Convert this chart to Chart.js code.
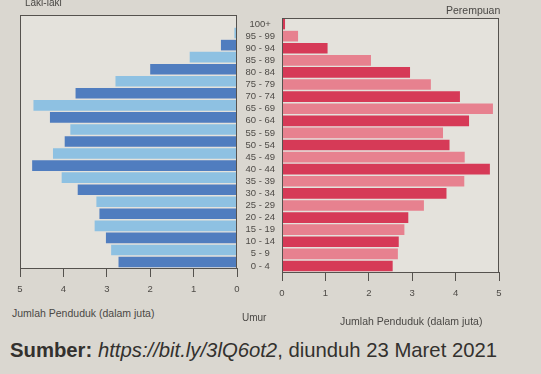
<!DOCTYPE html>
<html>
<head>
<meta charset="utf-8">
<script src="https://cdn.jsdelivr.net/npm/chart.js@4"></script>
<style>
  html, body { margin:0; padding:0; }
  body { width:541px; height:374px; background:#dad7d0; position:relative; overflow:hidden;
         font-family:"Liberation Sans", Arial, sans-serif; color:#4a4845; }
  canvas { position:absolute; }
  .t { position:absolute; white-space:nowrap; line-height:1; }
</style>
</head>
<body>
<canvas id="cL" width="240" height="300" style="left:0;top:0"></canvas>
<canvas id="cR" width="305" height="304" style="left:236px;top:0"></canvas>
<div class="t" style="left:25px;top:-2px;font-size:10px;">Laki-laki</div>
<div class="t" style="left:446px;top:5px;font-size:10.5px;">Perempuan</div>
<div class="t" style="left:12px;top:308px;font-size:10.5px;">Jumlah Penduduk (dalam juta)</div>
<div class="t" style="left:242px;top:313px;font-size:10px;">Umur</div>
<div class="t" style="left:340px;top:316px;font-size:10.5px;">Jumlah Penduduk (dalam juta)</div>
<div class="t" style="left:10px;top:340px;font-size:20.3px;color:#33312e;"><b>Sumber:</b> <i>https://bit.ly/3lQ6ot2</i>, diunduh 23 Maret 2021</div>
<script>
const ages = ['0 - 4','5 - 9','10 - 14','15 - 19','20 - 24','25 - 29','30 - 34','35 - 39','40 - 44','45 - 49',
              '50 - 54','55 - 59','60 - 64','65 - 69','70 - 74','75 - 79','80 - 84','85 - 89','90 - 94','95 - 99','100+'];
const male   = [2.73, 2.90, 3.02, 3.28, 3.17, 3.24, 3.67, 4.04, 4.72, 4.24, 3.97, 3.84, 4.31, 4.69, 3.72, 2.80, 2.00, 1.09, 0.37, 0.06, 0.02];
const female = [2.55, 2.67, 2.69, 2.82, 2.91, 3.27, 3.79, 4.20, 4.79, 4.21, 3.86, 3.71, 4.31, 4.86, 4.10, 3.43, 2.95, 2.05, 1.05, 0.37, 0.07];
const xTicks = [0, 1, 2, 3, 4, 5];

const BLUE_DARK = '#507dbf', BLUE_LIGHT = '#8ec1e2';
const RED_DARK = '#d63a57', RED_LIGHT = '#e7818f';
const PLOT_BG = '#e4e2dc', FRAME = '#55524e', TXT = '#4e4b47';

const framePlugin = {
  id: 'frame',
  beforeDatasetsDraw(chart) {
    const a = chart.chartArea, c = chart.ctx;
    c.save(); c.fillStyle = PLOT_BG; c.fillRect(a.left, a.top, a.right - a.left, a.bottom - a.top); c.restore();
  },
  afterDraw(chart) {
    const a = chart.chartArea, c = chart.ctx;
    c.save(); c.strokeStyle = FRAME; c.lineWidth = 1;
    c.strokeRect(Math.round(a.left) + 0.5, Math.round(a.top) + 0.5, Math.round(a.right - a.left) - 1, Math.round(a.bottom - a.top));
    c.restore();
  }
};

function xScale(reverse) {
  return {
    type: 'linear', min: 0, max: 5, reverse: reverse,
    afterBuildTicks: s => { s.ticks = xTicks.map(v => ({ value: v })); },
    ticks: { font: { size: 9.5, family: '"Liberation Sans", Arial' }, color: TXT, padding: 7, maxRotation: 0 },
    grid: { drawOnChartArea: false, drawTicks: true, tickLength: 9, color: FRAME },
    border: { display: true, color: FRAME, width: 1 },
    afterFit: s => { s.height = 32; }
  };
}

new Chart(document.getElementById('cL'), {
  type: 'bar',
  data: { labels: ages, datasets: [{ data: male,
    backgroundColor: ctx => (ctx.dataIndex % 2 ? BLUE_LIGHT : BLUE_DARK),
    barPercentage: 0.88, categoryPercentage: 1 }] },
  options: {
    indexAxis: 'y', responsive: false, animation: false, devicePixelRatio: 1,
    layout: { padding: { left: 20, right: 3, top: 15, bottom: 0 } },
    plugins: { legend: { display: false }, tooltip: { enabled: false } },
    scales: { x: xScale(true), y: { display: false, reverse: true } }
  },
  plugins: [framePlugin]
});

new Chart(document.getElementById('cR'), {
  type: 'bar',
  data: { labels: ages, datasets: [{ data: female,
    backgroundColor: ctx => (ctx.dataIndex % 2 ? RED_LIGHT : RED_DARK),
    barPercentage: 0.88, categoryPercentage: 1 }] },
  options: {
    indexAxis: 'y', responsive: false, animation: false, devicePixelRatio: 1,
    layout: { padding: { left: 0, right: 42, top: 18, bottom: 0 } },
    plugins: { legend: { display: false }, tooltip: { enabled: false } },
    scales: {
      x: xScale(false),
      y: { position: 'left', reverse: true,
           grid: { display: false, drawTicks: false }, border: { display: false },
           ticks: { crossAlign: 'center', padding: 7, autoSkip: false, color: TXT,
                    font: { size: 9.5, family: '"Liberation Sans", Arial' } },
           afterFit: s => { s.width = 46; } }
    }
  },
  plugins: [framePlugin]
});
</script>
</body>
</html>
